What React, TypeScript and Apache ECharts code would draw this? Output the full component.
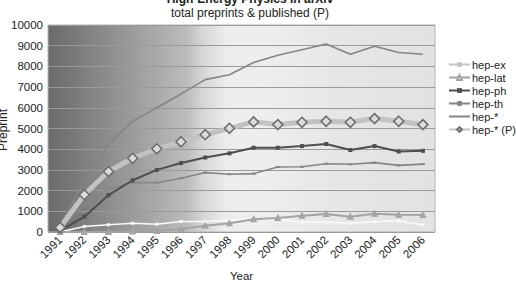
import React, { useEffect, useRef } from "react";
import * as echarts from "echarts";

const years = ["1991", "1992", "1993", "1994", "1995", "1996", "1997", "1998", "1999", "2000", "2001", "2002", "2003", "2004", "2005", "2006"];
const hepEx = [0, 270, 350, 420, 380, 510, 510, 580, 620, 590, 470, 470, 420, 500, 540, 340];
const hepLat = [0, 0, 0, 20, 50, 140, 300, 420, 620, 680, 780, 870, 740, 880, 830, 820];
const hepPh = [50, 740, 1780, 2500, 3000, 3330, 3600, 3800, 4070, 4070, 4150, 4250, 3960, 4150, 3890, 3920];
const hepTh = [150, 1350, 2070, 2390, 2380, 2600, 2870, 2790, 2820, 3140, 3150, 3300, 3270, 3350, 3220, 3280];
const hepAll = [250, 2470, 4230, 5350, 6000, 6670, 7360, 7600, 8190, 8540, 8800, 9080, 8590, 8970, 8670, 8590];
const hepAllP = [220, 1800, 2920, 3560, 4020, 4360, 4700, 5010, 5320, 5190, 5300, 5350, 5300, 5480, 5350, 5190];

const FONT = "Liberation Sans, Arial, sans-serif";

export default function App() {
  const ref = useRef<HTMLDivElement>(null);

  useEffect(() => {
    if (!ref.current) return;
    const chart = echarts.init(ref.current, undefined, { renderer: "svg" });

    const plotBg = new echarts.graphic.LinearGradient(0, 0, 1, 0, [
      { offset: 0, color: "#6a6a6a" },
      { offset: 0.2, color: "#979797" },
      { offset: 0.36, color: "#bcbcbc" },
      { offset: 0.4, color: "#d6d6d6" },
      { offset: 0.46, color: "#ededed" },
      { offset: 0.55, color: "#eeeeee" },
      { offset: 0.75, color: "#e6e6e6" },
      { offset: 1, color: "#e2e2e2" },
    ]);

    chart.setOption({
      animation: false,
      backgroundColor: "#ffffff",
      textStyle: { fontFamily: FONT },
      graphic: [
        {
          type: "text",
          x: 250,
          y: -7,
          style: {
            text: "High-Energy Physics in arXiv",
            fontFamily: FONT,
            fontSize: 12,
            fontWeight: "bold",
            fill: "#222",
            textAlign: "center",
          },
        },
        {
          type: "text",
          x: 250,
          y: 7,
          style: {
            text: "total preprints & published (P)",
            fontFamily: FONT,
            fontSize: 12,
            fill: "#222",
            textAlign: "center",
          },
        },
        {
          type: "text",
          x: 3,
          y: 130,
          rotation: Math.PI / 2,
          style: {
            text: "Preprint",
            fontFamily: FONT,
            fontSize: 12,
            fill: "#222",
            textAlign: "center",
            textVerticalAlign: "middle",
          },
        },
      ],
      grid: {
        left: 48,
        top: 25,
        right: 81,
        bottom: 54,
        show: true,
        backgroundColor: plotBg,
        borderColor: "#b5b5b5",
        borderWidth: 1,
      },
      legend: {
        orient: "vertical",
        left: 443,
        top: 53,
        itemWidth: 21,
        itemHeight: 6,
        itemGap: 0,
        textStyle: {
          fontFamily: FONT,
          fontSize: 11,
          lineHeight: 13,
          color: "#222",
          padding: [0, 0, 0, -3],
        },
        data: [
          { name: "hep-ex", lineStyle: { color: "#c4c4c4" }, itemStyle: { color: "#c4c4c4" } },
          { name: "hep-lat" },
          { name: "hep-ph" },
          { name: "hep-th" },
          { name: "hep-*", itemStyle: { opacity: 0 } },
          { name: "hep-* (P)" },
        ],
      },
      xAxis: {
        type: "category",
        data: years,
        boundaryGap: true,
        name: "Year",
        nameLocation: "middle",
        nameGap: 38,
        nameTextStyle: { fontFamily: FONT, fontSize: 11.5, color: "#222" },
        axisLine: { show: false },
        axisTick: { show: false },
        axisLabel: { rotate: 45, fontFamily: FONT, fontSize: 11.5, color: "#222", margin: 6 },
      },
      yAxis: {
        type: "value",
        min: 0,
        max: 10000,
        interval: 1000,
        axisLine: { show: false },
        axisTick: { show: false },
        axisLabel: {
          fontFamily: FONT,
          fontSize: 11.5,
          color: "#222",
          margin: 5,
          formatter: (v: number) => String(v),
        },
        splitLine: { lineStyle: { color: "#9a9a9a", width: 1 } },
      },
      series: [
        {
          name: "hep-ex",
          type: "line",
          data: hepEx,
          symbol: "rect",
          symbolSize: 3,
          lineStyle: { color: "#fbfbfb", width: 1.5 },
          itemStyle: { color: "#fbfbfb" },
          z: 3,
        },
        {
          name: "hep-lat",
          type: "line",
          data: hepLat,
          symbol: "emptyTriangle",
          symbolSize: 4,
          lineStyle: { color: "#a3a3a3", width: 2 },
          itemStyle: { color: "#a3a3a3", borderColor: "#9a9a9a" },
          z: 3,
        },
        {
          name: "hep-ph",
          type: "line",
          data: hepPh,
          symbol: "rect",
          symbolSize: 4,
          lineStyle: { color: "#4e4e4e", width: 2 },
          itemStyle: { color: "#4e4e4e" },
          z: 4,
        },
        {
          name: "hep-th",
          type: "line",
          data: hepTh,
          symbol: "rect",
          symbolSize: [4, 2],
          lineStyle: { color: "#858585", width: 1.6 },
          itemStyle: { color: "#858585" },
          z: 3,
        },
        {
          name: "hep-*",
          type: "line",
          data: hepAll,
          showSymbol: false,
          symbol: "none",
          lineStyle: { color: "#858585", width: 1.6 },
          itemStyle: { color: "#858585" },
          z: 3,
        },
        {
          name: "hep-* (P)",
          type: "line",
          data: hepAllP,
          symbol: "diamond",
          symbolSize: 10,
          lineStyle: { color: "#c2c2c2", width: 5 },
          itemStyle: { color: "#dcdcdc", borderColor: "#6e6e6e", borderWidth: 1.6 },
          z: 5,
        },
      ],
    });

    return () => chart.dispose();
  }, []);

  return (
    <div
      ref={ref}
      style={{ position: "absolute", left: 0, top: 0, width: 516, height: 287 }}
    />
  );
}
